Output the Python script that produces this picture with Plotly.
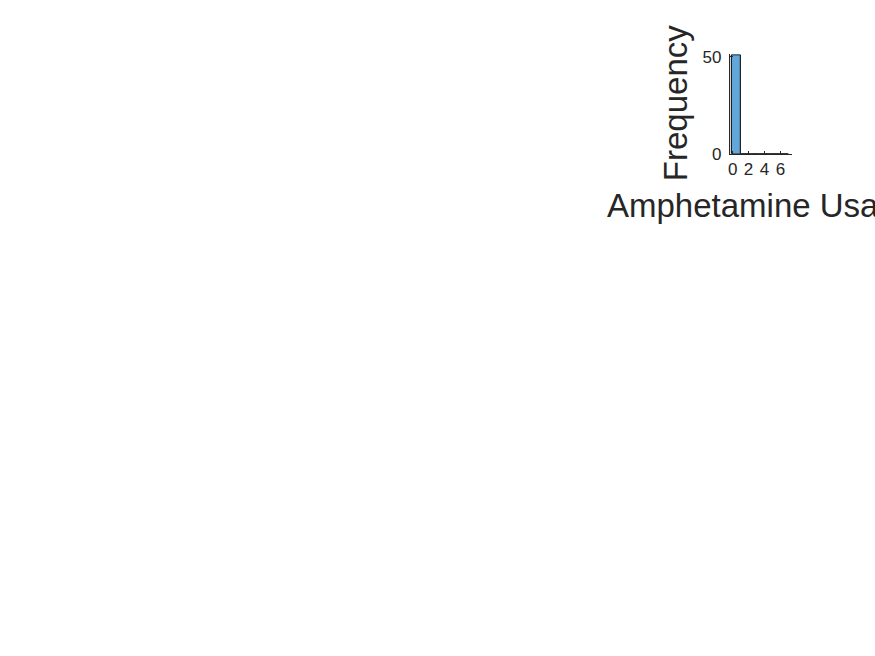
import plotly.graph_objects as go

# Histogram data (bin edges and counts)
bin_left = [-0.15, 1.05, 2.25, 3.45, 4.65, 5.85]
bin_width = 1.2
counts = [51, 0, 0, 0, 0, 0]
x_ticks = [0, 2, 4, 6]
y_ticks = [0, 50]
x_label = "Amphetamine Usage"
y_label = "Frequency"

centers = [b + bin_width / 2 for b in bin_left]

fig = go.Figure()
fig.add_trace(go.Bar(
    x=centers, y=counts, width=[bin_width] * len(counts),
    marker=dict(color="rgb(97,167,217)", line=dict(color="black", width=1)),
    showlegend=False, hoverinfo="skip",
))

font = "Liberation Sans, Arial, Helvetica, sans-serif"
fig.update_layout(
    width=875, height=656,
    margin=dict(l=0, r=0, t=0, b=0),
    paper_bgcolor="white", plot_bgcolor="white",
    bargap=0,
    font=dict(family=font, color="#262626"),
    xaxis=dict(
        domain=[729.5 / 875, 791.7 / 875],
        range=[-0.35, 7.42],
        tickvals=x_ticks, ticks="inside", ticklen=3, tickcolor="#262626",
        showline=True, linecolor="#262626", linewidth=1,
        showgrid=False, zeroline=False,
        tickfont=dict(size=17, color="#262626"),
    ),
    yaxis=dict(
        domain=[(656 - 151.5) / 656, (656 - 49.5) / 656],
        range=[0, 51.3],
        tickvals=y_ticks, ticks="inside", ticklen=3, tickcolor="#262626",
        showline=True, linecolor="#262626", linewidth=1,
        showgrid=False, zeroline=False,
        ticklabelstandoff=4,
        tickfont=dict(size=17, color="#262626"),
    ),
    annotations=[
        dict(text=x_label, xref="paper", yref="paper",
             x=760.6 / 875, y=(656 - 204) / 656,
             xanchor="center", yanchor="middle", showarrow=False,
             font=dict(size=33, color="#262626", family=font)),
        dict(text=y_label, xref="paper", yref="paper",
             x=674.6 / 875, y=(656 - 99.5) / 656, textangle=-90,
             xanchor="center", yanchor="middle", showarrow=False,
             font=dict(size=33, color="#262626", family=font)),
    ],
)

fig.write_html(
    "out.html",
    config={"displayModeBar": False},
    post_script="document.body.style.margin='0';document.body.style.overflow='hidden';",
)
